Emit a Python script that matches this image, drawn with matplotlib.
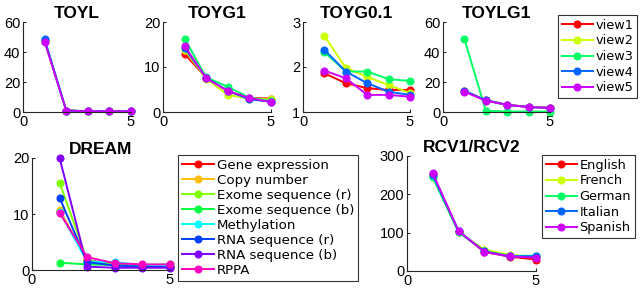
import matplotlib
matplotlib.use("Agg")
import matplotlib.pyplot as plt
import matplotlib.colors as mcolors
import numpy as np

plt.rcParams['font.family'] = ['Liberation Sans', 'DejaVu Sans']

x = [1, 2, 3, 4, 5]

view_names = ["view1", "view2", "view3", "view4", "view5"]
toyl = {
    "view1": [47.5, 1.0, 0.5, 0.5, 0.4],
    "view2": [47.5, 1.0, 0.5, 0.5, 0.4],
    "view3": [48.0, 1.0, 0.5, 0.5, 0.4],
    "view4": [48.5, 1.0, 0.5, 0.5, 0.4],
    "view5": [47.0, 1.0, 0.5, 0.5, 0.4],
}
toyg1 = {
    "view1": [12.9, 7.6, 4.6, 3.1, 3.0],
    "view2": [13.8, 7.4, 3.8, 3.0, 2.8],
    "view3": [16.3, 7.7, 5.6, 3.2, 2.4],
    "view4": [14.2, 7.6, 4.7, 2.8, 2.3],
    "view5": [14.7, 7.5, 4.7, 3.1, 2.2],
}
toyg01 = {
    "view1": [1.86, 1.64, 1.53, 1.49, 1.49],
    "view2": [2.69, 1.98, 1.78, 1.60, 1.42],
    "view3": [2.33, 1.90, 1.90, 1.73, 1.69],
    "view4": [2.38, 1.90, 1.64, 1.45, 1.38],
    "view5": [1.92, 1.75, 1.38, 1.38, 1.34],
}
toylg1 = {
    "view1": [14.0, 7.8, 4.8, 3.4, 2.8],
    "view2": [13.8, 7.6, 4.7, 3.3, 2.7],
    "view3": [48.7, 0.8, 0.3, 0.3, 0.3],
    "view4": [14.2, 7.8, 4.8, 3.3, 2.7],
    "view5": [13.5, 7.5, 4.7, 3.3, 2.7],
}

dream_names = ["Gene expression", "Copy number", "Exome sequence (r)",
               "Exome sequence (b)", "Methylation", "RNA sequence (r)",
               "RNA sequence (b)", "RPPA"]
dream = {
    "Gene expression":    [10.5, 1.8, 0.9, 0.7, 0.6],
    "Copy number":        [10.8, 1.6, 0.8, 0.7, 0.6],
    "Exome sequence (r)": [15.6, 1.7, 0.9, 0.7, 0.7],
    "Exome sequence (b)": [1.3, 1.0, 0.9, 0.9, 1.0],
    "Methylation":        [10.4, 1.5, 1.4, 0.9, 0.8],
    "RNA sequence (r)":   [12.9, 1.4, 0.8, 0.6, 0.5],
    "RNA sequence (b)":   [20.0, 0.6, 0.4, 0.4, 0.4],
    "RPPA":               [10.2, 2.3, 1.2, 1.0, 1.0],
}

lang_names = ["English", "French", "German", "Italian", "Spanish"]
rcv = {
    "English": [252, 103, 50, 37, 30],
    "French":  [248, 101, 56, 42, 36],
    "German":  [244, 101, 52, 39, 40],
    "Italian": [250, 104, 51, 38, 39],
    "Spanish": [255, 104, 50, 38, 35],
}

def hsv_colors(n):
    return [mcolors.hsv_to_rgb((i / n, 1, 1)) for i in range(n)]

W, H = 640, 290
fig = plt.figure(figsize=(W / 100, H / 100), dpi=100)

def make_ax(x0, x1, y0, y1):
    return fig.add_axes([x0 / W, 1 - y1 / H, (x1 - x0) / W, (y1 - y0) / H])

def style(ax, title, ylim, yticks):
    ax.set_xlim(0, 5)
    ax.set_ylim(*ylim)
    ax.set_xticks([0, 5])
    ax.set_yticks(yticks)
    ax.spines['top'].set_visible(False)
    ax.spines['right'].set_visible(False)
    for s in ('left', 'bottom'):
        ax.spines[s].set_color('#262626')
        ax.spines[s].set_linewidth(0.8)
    ax.tick_params(direction='in', length=2, labelsize=10.5, pad=2, colors='#262626')
    ax.tick_params(labelcolor='black')
    ax.set_title(title, fontsize=12.5, fontweight='bold', pad=3)

def draw(ax, data, names, lw=1.4, ms=4.8):
    cols = hsv_colors(len(names))
    handles = []
    for n, c in zip(names, cols):
        h, = ax.plot(x, data[n], '-o', color=c, lw=lw, ms=ms, label=n, clip_on=False)
        handles.append(h)
    return handles

def add_legend(handles, x0, y0, **kw):
    opts = dict(loc='upper left', frameon=True, fancybox=False, borderaxespad=0,
                handlelength=2.6, handletextpad=0.2, borderpad=0.3, labelspacing=0.2)
    opts.update(kw)
    lg = fig.legend(handles=handles, bbox_to_anchor=(x0 / W, 1 - y0 / H), **opts)
    lg.get_frame().set_edgecolor('black')
    lg.get_frame().set_linewidth(0.8)
    return lg

ax1 = make_ax(23, 131, 22, 112)
draw(ax1, toyl, view_names)
style(ax1, "TOYL", (0, 60), [0, 20, 40, 60])

ax2 = make_ax(163, 271, 22, 112)
draw(ax2, toyg1, view_names)
style(ax2, "TOYG1", (0, 20), [0, 10, 20])

ax3 = make_ax(303, 410, 22, 112)
draw(ax3, toyg01, view_names)
style(ax3, "TOYG0.1", (1, 3), [1, 2, 3])

ax4 = make_ax(443, 550, 22, 112)
hv = draw(ax4, toylg1, view_names)
style(ax4, "TOYLG1", (0, 60), [0, 20, 40, 60])
add_legend(hv, 558, 15, prop={'family': ['DejaVu Sans'], 'size': 9.3},
           handlelength=2.4)

ax5 = make_ax(32, 170, 158, 270)
hd = draw(ax5, dream, dream_names)
style(ax5, "DREAM", (0, 20), [0, 10, 20])
add_legend(hd, 178, 155, prop={'family': ['DejaVu Sans'], 'size': 9.6},
           labelspacing=0.15, handlelength=2.4)

ax6 = make_ax(407, 536, 156, 271)
hr = draw(ax6, rcv, lang_names)
style(ax6, "RCV1/RCV2", (0, 300), [0, 100, 200, 300])
add_legend(hr, 542, 155, prop={'family': ['DejaVu Sans'], 'size': 9.3},
           handlelength=2.4)

fig.savefig("out.png", dpi=100)
